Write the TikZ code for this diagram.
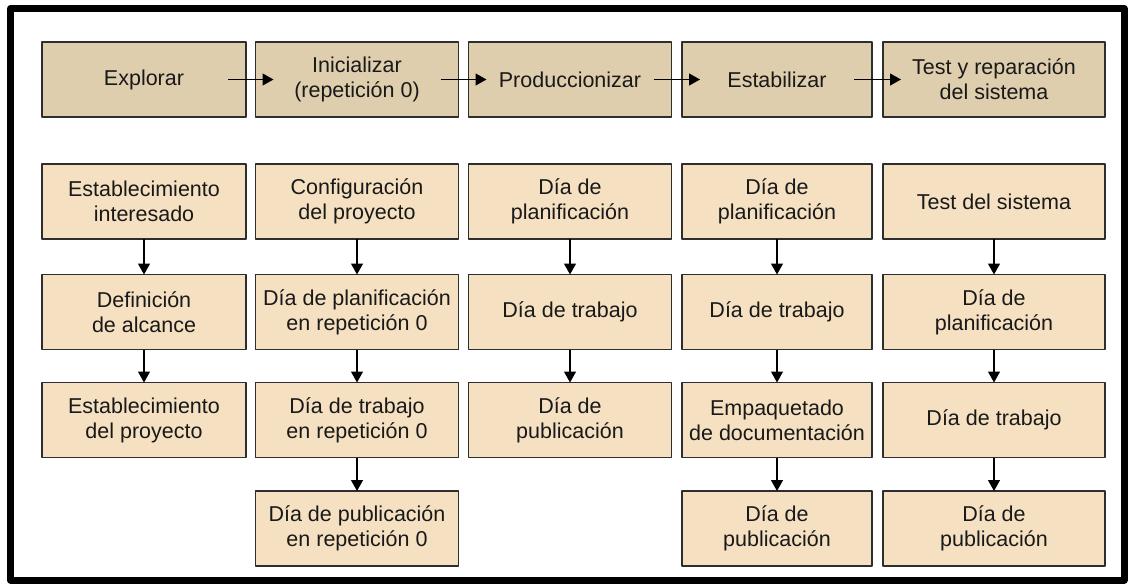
\documentclass[tikz,border=0pt]{standalone}
\usepackage{fontspec}
\setmainfont{Liberation Sans}
\usetikzlibrary{arrows.meta}
\definecolor{fasecol}{HTML}{DFCEAD}
\definecolor{tareacol}{HTML}{F5E1C1}
\definecolor{bordecol}{HTML}{2E2E2E}
\begin{document}
\begin{tikzpicture}[x=1pt,y=-1pt,line join=round,>={Triangle[length=11pt,width=12pt]},
	caja/.style={draw=bordecol,line width=1.3pt,minimum height=75pt,inner sep=0pt,outer sep=0pt,align=center,text=black!90,font=\fontsize{21.5}{25}\selectfont},
	fase/.style={caja,fill=fasecol},
	tarea/.style={caja,fill=tareacol},
	flecha/.style={->,line width=1.3pt,black}]
	\useasboundingbox (0,0) rectangle (1128,587);
	\draw[line width=7pt] (10.5,8.5) rectangle (1124,580);
	% fases
	\node[fase,minimum width=204pt] (f1) at (144,79.5) {Explorar};
	\node[fase,minimum width=203pt] (f2) at (357,79.5) {Inicializar\\(repetición 0)};
	\node[fase,minimum width=203pt] (f3) at (570,79.5) {Produccionizar};
	\node[fase,minimum width=190pt] (f4) at (777,79.5) {Estabilizar};
	\node[fase,minimum width=222pt] (f5) at (994,79.5) {Test y reparación\\del sistema};
	% columna 1
	\node[tarea,minimum width=204pt] (c1a) at (144,201.5) {Establecimiento\\interesado};
	\node[tarea,minimum width=204pt] (c1b) at (144,312) {Definición\\de alcance};
	\node[tarea,minimum width=204pt] (c1c) at (144,420) {Establecimiento\\del proyecto};
	% columna 2
	\node[tarea,minimum width=203pt] (c2a) at (357,201.5) {Configuración\\del proyecto};
	\node[tarea,minimum width=203pt] (c2b) at (357,312) {Día de planificación\\en repetición 0};
	\node[tarea,minimum width=203pt] (c2c) at (357,420) {Día de trabajo\\en repetición 0};
	\node[tarea,minimum width=203pt] (c2d) at (357,528.5) {Día de publicación\\en repetición 0};
	% columna 3
	\node[tarea,minimum width=203pt] (c3a) at (570,201.5) {Día de\\planificación};
	\node[tarea,minimum width=203pt] (c3b) at (570,312) {Día de trabajo};
	\node[tarea,minimum width=203pt] (c3c) at (570,420) {Día de\\publicación};
	% columna 4
	\node[tarea,minimum width=190pt] (c4a) at (777,201.5) {Día de\\planificación};
	\node[tarea,minimum width=190pt] (c4b) at (777,312) {Día de trabajo};
	\node[tarea,minimum width=190pt] (c4c) at (777,420) {Empaquetado\\de documentación};
	\node[tarea,minimum width=190pt] (c4d) at (777,528.5) {Día de\\publicación};
	% columna 5
	\node[tarea,minimum width=222pt] (c5a) at (994,201.5) {Test del sistema};
	\node[tarea,minimum width=222pt] (c5b) at (994,312) {Día de\\planificación};
	\node[tarea,minimum width=222pt] (c5c) at (994,420) {Día de trabajo};
	\node[tarea,minimum width=222pt] (c5d) at (994,528.5) {Día de\\publicación};
	% flechas
	\foreach \a/\b in {f1/f2,f2/f3,f3/f4,f4/f5}
	\draw[flecha] ([xshift=-18pt]\a.east) -- ([xshift=18pt]\b.west);
	\foreach \a/\b in {c1a/c1b,c1b/c1c,c2a/c2b,c2b/c2c,c2c/c2d,c3a/c3b,c3b/c3c,c4a/c4b,c4b/c4c,c4c/c4d,c5a/c5b,c5b/c5c,c5c/c5d}
	\draw[flecha] (\a.south) -- (\b.north);
\end{tikzpicture}
\end{document}
